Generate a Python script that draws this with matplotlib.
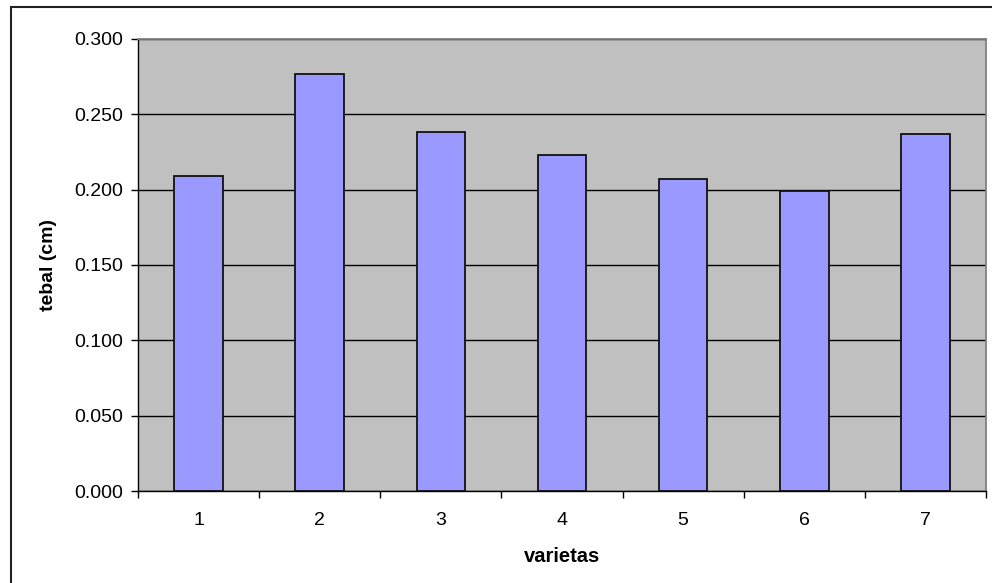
import matplotlib
matplotlib.use("Agg")
import matplotlib.pyplot as plt
from matplotlib.patches import Rectangle
from matplotlib.ticker import FormatStrFormatter, MultipleLocator
import numpy as np

plt.rcParams['font.family'] = ['Liberation Sans', 'DejaVu Sans']

varietas = ['1', '2', '3', '4', '5', '6', '7']
tebal = [0.209, 0.277, 0.238, 0.223, 0.207, 0.199, 0.237]

W, H = 992, 583
fig = plt.figure(figsize=(W / 100, H / 100), dpi=100)
fig.patch.set_facecolor('white')

# chart frame (runs off the right and bottom of the image)
fig.patches.append(Rectangle((11 / W, -0.05), 1.1, 1 - 7 / H + 0.05,
                             transform=fig.transFigure, fill=False,
                             edgecolor='#222222', linewidth=1.5))

# plot area in pixels: x 138..986, y 39..491
ax = fig.add_axes([138 / W, 1 - 491 / H, (986 - 138) / W, (491 - 39) / H])
ax.set_facecolor('#C0C0C0')

x = np.arange(len(varietas))
ax.bar(x, tebal, width=0.4, color='#9999FF', edgecolor='#111111',
       linewidth=1.3, zorder=3)

ax.set_xlim(-0.5, len(varietas) - 0.5)
ax.set_ylim(0, 0.3)
ax.yaxis.set_major_locator(MultipleLocator(0.05))
ax.yaxis.set_major_formatter(FormatStrFormatter('%.3f'))
ax.grid(axis='y', color='black', linewidth=1.0, zorder=1)
ax.set_axisbelow(True)

# category labels centred, tick marks on the boundaries
ax.set_xticks(np.arange(-0.5, len(varietas), 1.0))
ax.set_xticklabels([])
ax.set_xticks(x, minor=True)
ax.set_xticklabels(varietas, minor=True)
ax.tick_params(axis='x', which='minor', length=0, pad=15, labelsize=14)
ax.tick_params(axis='x', which='major', length=5, width=1, direction='out')
ax.tick_params(axis='y', length=5, width=1, direction='out', pad=6,
               labelsize=14)

for side in ['top', 'right']:
    ax.spines[side].set_color('#808080')
    ax.spines[side].set_linewidth(1.3)
for side in ['left', 'bottom']:
    ax.spines[side].set_color('black')
    ax.spines[side].set_linewidth(1.0)

ax.set_xlabel('varietas', fontsize=14.5, fontweight='bold', labelpad=13)
ax.set_ylabel('tebal (cm)', fontsize=14, fontweight='bold', labelpad=12)

fig.savefig('out.png', dpi=100)
